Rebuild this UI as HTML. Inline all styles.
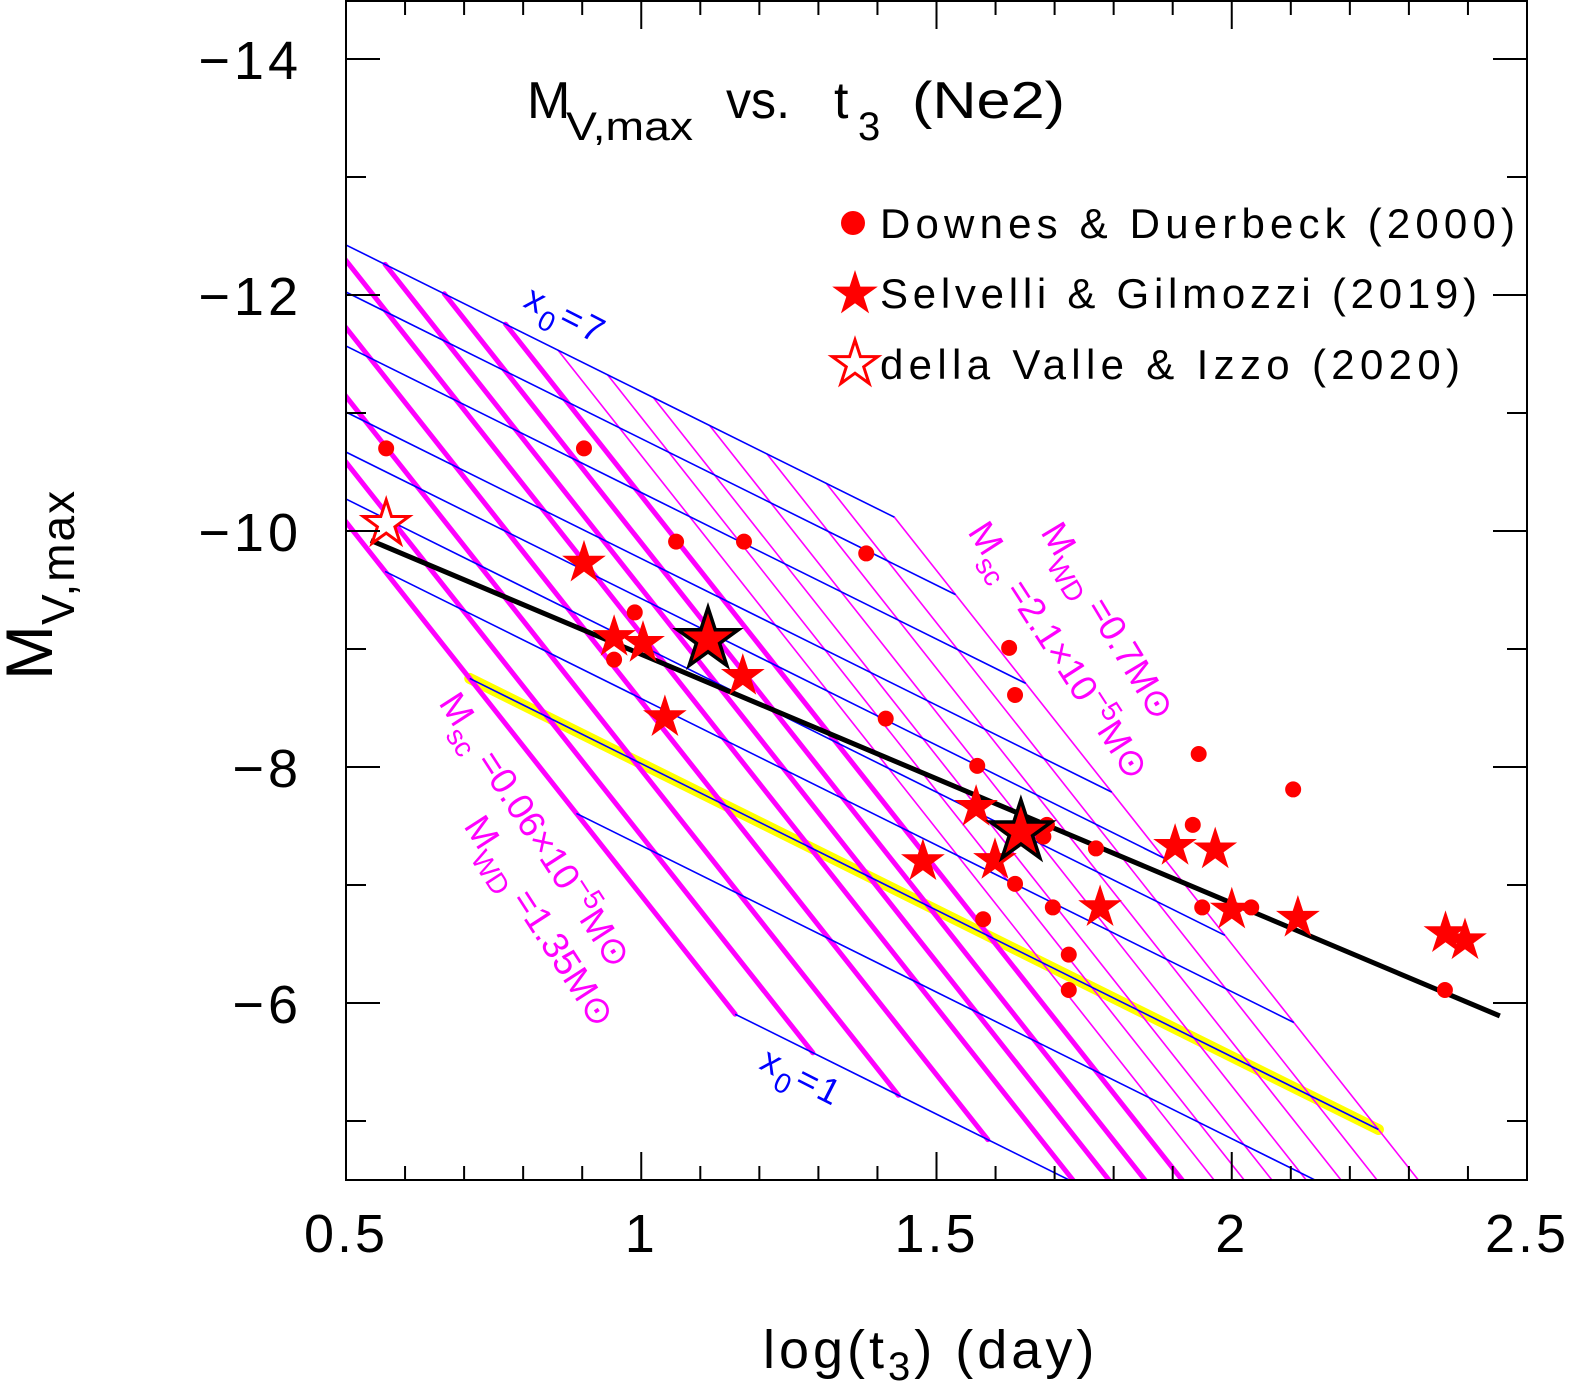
<!DOCTYPE html>
<html><head><meta charset="utf-8"><style>
html,body{margin:0;padding:0;background:#fff;width:1570px;height:1393px;overflow:hidden;}
svg{display:block;}
text{font-family:"Liberation Sans",sans-serif;}
</style></head><body>
<svg id="chart" width="1570" height="1393" viewBox="0 0 1570 1393" xmlns="http://www.w3.org/2000/svg">
<defs><clipPath id="plotclip"><rect x="346" y="1" width="1181" height="1179"/></clipPath></defs>
<rect x="0" y="0" width="1570" height="1393" fill="#fff"/>
<g id="grid" clip-path="url(#plotclip)"></g>
<g id="marks" clip-path="url(#plotclip)"></g>
<g id="axes"></g>

<text font-size="52" fill="#000">
<tspan x="527" y="118">M</tspan><tspan x="566" y="140" font-size="40" textLength="127" lengthAdjust="spacingAndGlyphs">V,max</tspan><tspan x="726" y="118" textLength="64" lengthAdjust="spacingAndGlyphs">vs.</tspan><tspan x="834" y="118">t</tspan><tspan x="858" y="140" font-size="40">3</tspan><tspan x="912" y="118" textLength="153" lengthAdjust="spacingAndGlyphs">(Ne2)</tspan>
</text>

<g>
<circle cx="853" cy="223" r="12" fill="#ff0000"/>
<text x="880" y="238" font-size="42" textLength="635" lengthAdjust="spacing">Downes &amp; Duerbeck (2000)</text>
<path id="legstar1" fill="#ff0000"/>
<text x="880" y="308" font-size="42" textLength="597" lengthAdjust="spacing">Selvelli &amp; Gilmozzi (2019)</text>
<path id="legstar2" fill="#fff" stroke="#ff0000" stroke-width="3"/>
<text x="880" y="379" font-size="42" textLength="580" lengthAdjust="spacing">della Valle &amp; Izzo (2020)</text>
</g>

<text transform="translate(522,306) rotate(27)" font-size="36" letter-spacing="3" fill="#0000ff">x<tspan font-size="28" dy="12">0</tspan><tspan dy="-12">=7</tspan></text>
<text transform="translate(758,1068) rotate(27)" font-size="36" letter-spacing="3" fill="#0000ff">x<tspan font-size="28" dy="12">0</tspan><tspan dy="-12">=1</tspan></text>
<text transform="translate(438,703) rotate(57)" font-size="37" fill="#ff00ff">M<tspan font-size="28" dy="12">sc</tspan><tspan dy="-12"> =0.06×10</tspan><tspan font-size="28" dy="-14">−5</tspan><tspan dy="14">M⊙</tspan></text>
<text transform="translate(463,826) rotate(57)" font-size="37" fill="#ff00ff">M<tspan font-size="28" dy="12">WD</tspan><tspan dy="-12"> =1.35M⊙</tspan></text>
<text transform="translate(1040,532) rotate(59)" font-size="37" fill="#ff00ff">M<tspan font-size="28" dy="12">WD</tspan><tspan dy="-12"> =0.7M⊙</tspan></text>
<text transform="translate(967,532) rotate(57)" font-size="37" fill="#ff00ff">M<tspan font-size="28" dy="12">sc</tspan><tspan dy="-12"> =2.1×10</tspan><tspan font-size="28" dy="-14">−5</tspan><tspan dy="14">M⊙</tspan></text>

<text transform="translate(52,680) rotate(-90)" font-size="66">M<tspan font-size="46" dy="22" letter-spacing="2">V,max</tspan></text>
<text x="763" y="1368" font-size="54" letter-spacing="4">log(t<tspan font-size="40" dy="12">3</tspan><tspan dy="-12">)  (day)</tspan></text>
</svg>
<script>
// ---- data ----
const dotX = [0.568,0.903,1.059,1.174,1.381,0.989,0.954,1.623,1.633,1.414,1.569,1.944,2.104,1.934,1.687,1.681,1.770,1.633,1.950,2.033,1.697,1.579,1.724,1.724,2.361];
const dotY = [-10.70,-10.70,-9.91,-9.91,-9.81,-9.31,-8.91,-9.01,-8.61,-8.41,-8.01,-8.11,-7.81,-7.51,-7.51,-7.41,-7.31,-7.01,-6.81,-6.81,-6.81,-6.71,-6.41,-6.11,-6.11];
const starX = [0.903,0.954,1.003,1.172,1.040,1.567,1.477,1.599,1.904,1.972,1.777,2.000,2.112,2.362,2.395];
const starY = [-9.73,-9.10,-9.05,-8.77,-8.42,-7.66,-7.20,-7.21,-7.33,-7.30,-6.81,-6.79,-6.72,-6.59,-6.53];
const bigStarX = [1.113,1.643];
const bigStarY = [-9.08,-7.45];
const openStarX = [0.568];
const openStarY = [-10.06];
const fitX = [0.542,2.454];
const fitY = [-9.92,-5.89];
// model grid: x0 lines (M at log t3 = 0.5) and mass lines (log t3 where M = -4.5)
const blueIntercepts = [-12.424,-12.025,-11.568,-11.008,-10.669,-10.271,-9.822,-9.271,-8.576,-7.542];
const blueSlope = 2.484;
const magentaXb = [1.381,1.461,1.549,1.641,1.731,1.792,1.853,1.916,1.970,2.021,2.068,2.126,2.185,2.246,2.316];
const magentaSlope = 6.33;
const thickCount = 8;
const highlightIndex = 7;
const yTicks = [-14,-12,-10,-8,-6];
const xTicks = [0.5,1,1.5,2,2.5];
const xTickLabels = ["0.5","1","1.5","2","2.5"];

// ---- scales ----
const X = x => 346 + (x - 0.5) * 590.5;
const Y = m => 59 + (m + 14) * 118;
const NS = "http://www.w3.org/2000/svg";
function mk(tag, parent, attrs){ const e=document.createElementNS(NS,tag); for(const k in attrs) e.setAttribute(k,attrs[k]); parent.appendChild(e); return e; }
function starPath(cx,cy,R){ let d=""; for(let i=0;i<10;i++){ const r=i%2?R*0.382:R; const a=-Math.PI/2+i*Math.PI/5; d+=(i?"L":"M")+(cx+r*Math.cos(a)).toFixed(1)+","+(cy+r*Math.sin(a)).toFixed(1);} return d+"Z"; }

document.getElementById('legstar1').setAttribute('d', starPath(855,294,24));
document.getElementById('legstar2').setAttribute('d', starPath(855,364,24));

const grid = document.getElementById('grid');
const blueM = (b,x) => b + blueSlope*(x-0.5);
const magM = (xb,x) => -4.5 + magentaSlope*(x-xb);
const inter = (b,xb) => (b + 4.5 + magentaSlope*xb - blueSlope*0.5)/(magentaSlope - blueSlope);
const xbL = magentaXb[0], xbR = magentaXb[magentaXb.length-1];
const bTop = blueIntercepts[0], bBot = blueIntercepts[blueIntercepts.length-1];

{
  const b = blueIntercepts[highlightIndex];
  const x1 = inter(b,xbL), x2 = inter(b,xbR);
  const hl = mk('line', grid, {x1:X(x1),y1:Y(blueM(b,x1)),x2:X(x2),y2:Y(blueM(b,x2)),stroke:'#ffff00','stroke-width':11,'stroke-linecap':'round'});
  
  
}
magentaXb.forEach((xb,i)=>{
  const x1 = inter(bTop,xb), x2 = inter(bBot,xb);
  const l = mk('line', grid, {x1:X(x1),y1:Y(magM(xb,x1)),x2:X(x2),y2:Y(magM(xb,x2)),stroke:'#ff00ff','stroke-width': i<thickCount?5:1.6,'stroke-linecap':'round'});
  
  
});
blueIntercepts.forEach((b)=>{
  const x1 = inter(b,xbL), x2 = inter(b,xbR);
  const l = mk('line', grid, {x1:X(x1),y1:Y(blueM(b,x1)),x2:X(x2),y2:Y(blueM(b,x2)),stroke:'#0000ff','stroke-width':1.6});
  
  
});

const marks = document.getElementById('marks');
const fit = mk('line', marks, {x1:X(fitX[0]),y1:Y(fitY[0]),x2:X(fitX[1]),y2:Y(fitY[1]),stroke:'#000','stroke-width':5});



dotX.forEach((x,i)=>{
  const c = mk('circle', marks, {cx:X(x),cy:Y(dotY[i]),r:8,fill:'#ff0000'});
  
  
});
starX.forEach((x,i)=>{
  const p = mk('path', marks, {d:starPath(X(x),Y(starY[i]),23),fill:'#ff0000'});
  
  
});
bigStarX.forEach((x,i)=>{
  const p = mk('path', marks, {d:starPath(X(x),Y(bigStarY[i]),32),fill:'#ff0000',stroke:'#000','stroke-width':3.5,'stroke-linejoin':'miter'});
  
  
});
openStarX.forEach((x,i)=>{
  const p = mk('path', marks, {d:starPath(X(x),Y(openStarY[i]),24),fill:'#fff',stroke:'#ff0000','stroke-width':3});
  
  
});

const axes = document.getElementById('axes');
const frame = mk('rect', axes, {x:346,y:1,width:1181,height:1179,fill:'none',stroke:'#000','stroke-width':2});


for(let m=-14; m<=-5; m++){
  const len = (m%2===0)?34:20;
  const t1 = mk('line', axes, {x1:346,y1:Y(m),x2:346+len,y2:Y(m),stroke:'#000','stroke-width':2});
  
  
  const t2 = mk('line', axes, {x1:1527,y1:Y(m),x2:1527-len,y2:Y(m),stroke:'#000','stroke-width':2});
  
  
}
yTicks.forEach(m=>{
  const t = mk('text', axes, {x:302,y:Y(m)+20,'font-size':54,'text-anchor':'end','letter-spacing':4});
  t.textContent = '\u2212' + Math.abs(m);
  
  
});
for(let k=5; k<=25; k++){
  const x = k/10, major = (k%5===0);
  const len = major?28:14;
  const t1 = mk('line', axes, {x1:X(x),y1:1180,x2:X(x),y2:1180-len,stroke:'#000','stroke-width':2});
  
  
  const t2 = mk('line', axes, {x1:X(x),y1:1,x2:X(x),y2:1+len,stroke:'#000','stroke-width':2});
  
  
}
xTicks.forEach((x,i)=>{
  const t = mk('text', axes, {x:X(x),y:1252,'font-size':54,'text-anchor':'middle','letter-spacing':3});
  t.textContent = xTickLabels[i];
  
  
});
</script>
</body></html>
